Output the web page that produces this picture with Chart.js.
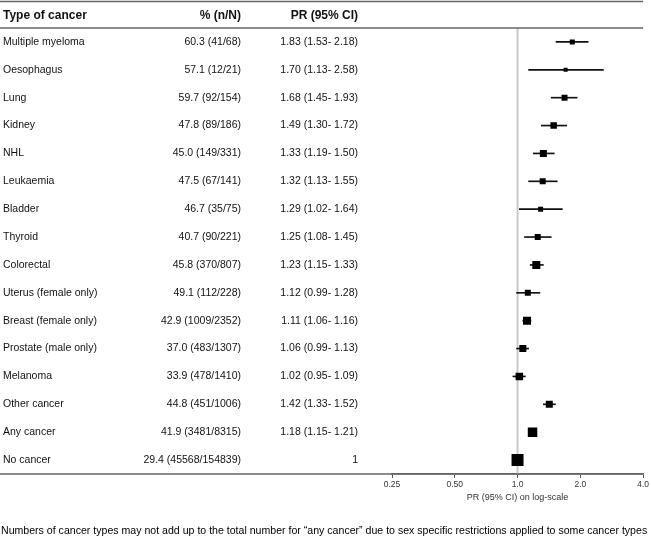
<!DOCTYPE html>
<html>
<head>
<meta charset="utf-8">
<script src="https://cdn.jsdelivr.net/npm/chart.js@4.4.1/dist/chart.umd.min.js"></script>
<style>
  html, body { margin: 0; padding: 0; background: #fff; }
  #wrap { width: 651px; height: 546px; }
</style>
</head>
<body>
<div id="wrap"><canvas id="forest" width="651" height="546"></canvas></div>
<script>
// --- Data ---
const cancerTypes = ['Multiple myeloma', 'Oesophagus', 'Lung', 'Kidney', 'NHL', 'Leukaemia', 'Bladder', 'Thyroid',
  'Colorectal', 'Uterus (female only)', 'Breast (female only)', 'Prostate (male only)', 'Melanoma',
  'Other cancer', 'Any cancer', 'No cancer'];
const pct = [60.3, 57.1, 59.7, 47.8, 45.0, 47.5, 46.7, 40.7, 45.8, 49.1, 42.9, 37.0, 33.9, 44.8, 41.9, 29.4];
const nCases = [41, 12, 92, 89, 149, 67, 35, 90, 370, 112, 1009, 483, 478, 451, 3481, 45568];
const nTotal = [68, 21, 154, 186, 331, 141, 75, 221, 807, 228, 2352, 1307, 1410, 1006, 8315, 154839];
const prValues = [1.83, 1.70, 1.68, 1.49, 1.33, 1.32, 1.29, 1.25, 1.23, 1.12, 1.11, 1.06, 1.02, 1.42, 1.18, 1];
const ciLower = [1.53, 1.13, 1.45, 1.30, 1.19, 1.13, 1.02, 1.08, 1.15, 0.99, 1.06, 0.99, 0.95, 1.33, 1.15, null];
const ciUpper = [2.18, 2.58, 1.93, 1.72, 1.50, 1.55, 1.64, 1.45, 1.33, 1.28, 1.16, 1.13, 1.09, 1.52, 1.21, null];
const tickValues = [0.25, 0.5, 1, 2, 4];
const tickLabels = ['0.25', '0.50', '1.0', '2.0', '4.0'];
const footnote = 'Numbers of cancer types may not add up to the total number for \u201cany cancer\u201d due to sex specific restrictions applied to some cancer types';

// marker box side (px), reflects weight of each estimate
const boxSide = [5, 4, 6, 6.5, 7, 6, 5, 6, 8, 6, 8, 7, 7.5, 7, 9.5, 12];

const FONT = '"Liberation Sans", Arial, sans-serif';
const RULE = '#666';

function prLabel(i) {
  if (ciLower[i] == null) return String(prValues[i]);
  return prValues[i].toFixed(2) + ' (' + ciLower[i].toFixed(2) + '- ' + ciUpper[i].toFixed(2) + ')';
}

// table text, rules, reference line and footnote
const tablePlugin = {
  id: 'forestTable',
  beforeDatasetsDraw(chart) {
    const { ctx, chartArea, scales } = chart;
    const x1 = scales.x.getPixelForValue(1);
    ctx.save();
    ctx.strokeStyle = '#c8c8c8';
    ctx.lineWidth = 2;
    ctx.beginPath();
    ctx.moveTo(x1, 28);
    ctx.lineTo(x1, chartArea.bottom);
    ctx.stroke();
    ctx.restore();
  },
  afterDraw(chart) {
    const { ctx, chartArea, scales } = chart;
    const right = chartArea.right;
    ctx.save();
    // rules
    ctx.strokeStyle = RULE;
    ctx.lineWidth = 1.5;
    [1.5, 28, chartArea.bottom].forEach(y => {
      ctx.beginPath();
      ctx.moveTo(0, y);
      ctx.lineTo(right, y);
      ctx.stroke();
    });

    // header
    ctx.fillStyle = '#111';
    ctx.textBaseline = 'middle';
    ctx.font = 'bold 12px ' + FONT;
    ctx.textAlign = 'left';
    ctx.fillText('Type of cancer', 3, 15.5);
    ctx.textAlign = 'right';
    ctx.fillText('% (n/N)', 241, 15.5);
    ctx.fillText('PR (95% CI)', 358, 15.5);

    // rows
    ctx.font = '10.5px ' + FONT;
    cancerTypes.forEach((name, i) => {
      const y = scales.y.getPixelForValue(i);
      ctx.textAlign = 'left';
      ctx.fillText(name, 3, y);
      ctx.textAlign = 'right';
      ctx.fillText(pct[i].toFixed(1) + ' (' + nCases[i] + '/' + nTotal[i] + ')', 241, y);
      ctx.fillText(prLabel(i), 358, y);
    });

    // footnote, fitted to the page width
    ctx.font = '10px ' + FONT;
    const w = ctx.measureText(footnote).width;
    const size = 10 * 646 / w;
    ctx.font = size.toFixed(2) + 'px ' + FONT;
    ctx.textAlign = 'left';
    ctx.fillStyle = '#000';
    ctx.fillText(footnote, 1, 531);
    ctx.restore();
  }
};

const ctx = document.getElementById('forest').getContext('2d');
new Chart(ctx, {
  type: 'bar',
  data: {
    labels: cancerTypes,
    datasets: [
      {
        type: 'bar',
        data: cancerTypes.map((_, i) => ciLower[i] == null ? null : [ciLower[i], ciUpper[i]]),
        backgroundColor: '#111',
        borderWidth: 0,
        barThickness: 1,
        order: 2
      },
      {
        type: 'line',
        data: prValues,
        showLine: false,
        pointStyle: 'rect',
        pointRadius: boxSide.map(s => s / (2 * Math.SQRT1_2)),
        pointBackgroundColor: '#000',
        pointBorderWidth: 0,
        order: 1
      }
    ]
  },
  options: {
    indexAxis: 'y',
    responsive: false,
    animation: false,
    layout: { autoPadding: false, padding: { top: 28, left: 392, right: 4, bottom: 43 } },
    plugins: { legend: { display: false }, tooltip: { enabled: false } },
    scales: {
      y: { type: 'category', display: false, offset: true, grid: { display: false } },
      x: {
        type: 'logarithmic',
        min: 0.25,
        max: 4,
        afterBuildTicks: scale => { scale.ticks = tickValues.map(v => ({ value: v })); },
        ticks: {
          callback: (v, i) => tickLabels[i],
          font: { family: FONT, size: 8.5 },
          color: '#333',
          padding: 2,
          autoSkip: false,
          maxRotation: 0
        },
        grid: { drawOnChartArea: false, tickLength: 4, color: '#555' },
        border: { display: true, color: RULE, width: 1.5 },
        title: {
          display: true,
          text: 'PR (95% CI) on log-scale',
          font: { family: FONT, size: 9 },
          color: '#333',
          padding: { top: 0, bottom: 0 }
        }
      }
    }
  },
  plugins: [tablePlugin]
});
</script>
</body>
</html>
